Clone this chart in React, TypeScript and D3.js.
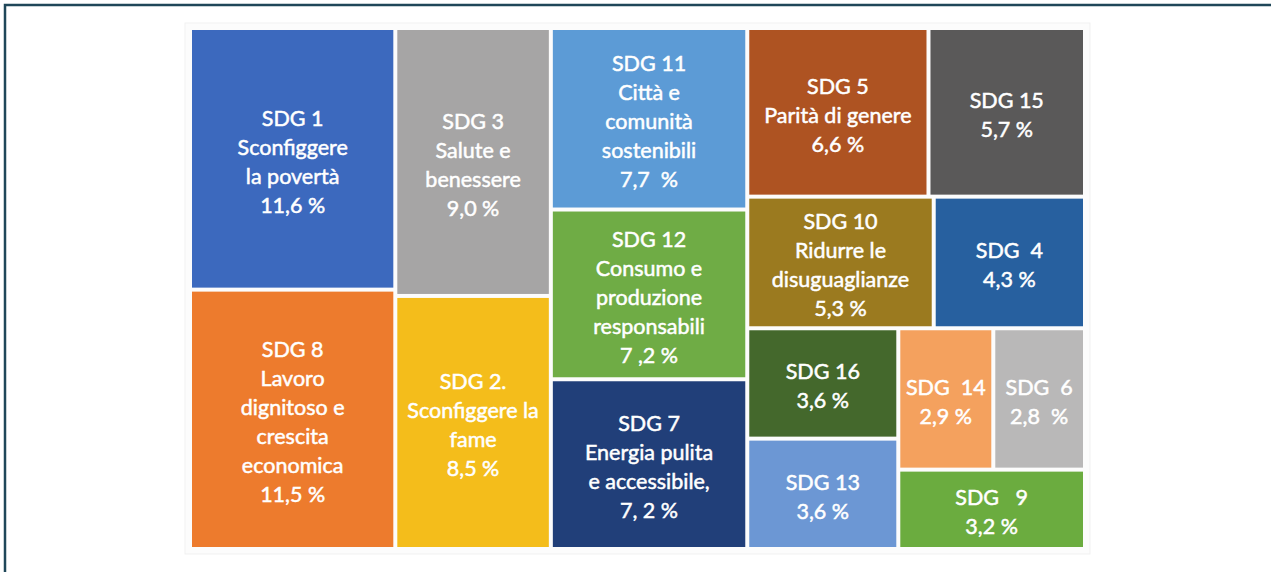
import React from "react";
import * as d3 from "d3";

const width = 1271;
const height = 572;
// area occupied by the tiles
const area = { left: 192, top: 30, right: 1083, bottom: 547 };

// SDG codes, titles, shares (%) and the value text as it is printed
const codes = ["SDG1", "SDG8", "SDG3", "SDG2", "SDG11", "SDG12", "SDG7", "SDG5", "SDG15", "SDG10", "SDG4", "SDG16", "SDG13", "SDG14", "SDG6", "SDG9"];
const headings = ["SDG 1", "SDG 8", "SDG 3", "SDG 2.", "SDG 11", "SDG 12", "SDG 7", "SDG 5", "SDG 15", "SDG 10", "SDG  4", "SDG 16", "SDG 13", "SDG  14", "SDG  6", "SDG   9"];
const titles = [
  ["Sconfiggere", "la povertà"],
  ["Lavoro", "dignitoso e", "crescita", "economica"],
  ["Salute e", "benessere"],
  ["Sconfiggere la", "fame"],
  ["Città e", "comunità", "sostenibili"],
  ["Consumo e", "produzione", "responsabili"],
  ["Energia pulita", "e accessibile,"],
  ["Parità di genere"],
  [],
  ["Ridurre le", "disuguaglianze"],
  [],
  [],
  [],
  [],
  [],
  [],
];
const values = [11.6, 11.5, 9.0, 8.5, 7.7, 7.2, 7.2, 6.6, 5.7, 5.3, 4.3, 3.6, 3.6, 2.9, 2.8, 3.2];
const valueLabels = ["11,6 %", "11,5 %", "9,0 %", "8,5 %", "7,7  %", "7 ,2 %", "7, 2 %", "6,6 %", "5,7 %", "5,3 %", "4,3 %", "3,6 %", "3,6 %", "2,9 %", "2,8  %", "3,2 %"];

const colors: Record<string, string> = {
  SDG1: "#3c69be", SDG8: "#ed7b2d", SDG3: "#a6a5a5", SDG2: "#f4bd1b",
  SDG11: "#5c9bd6", SDG12: "#6fac45", SDG7: "#213f79", SDG5: "#ae5322",
  SDG15: "#5a5959", SDG10: "#9b7a1f", SDG4: "#27609f", SDG16: "#44682c",
  SDG13: "#6c97d4", SDG14: "#f4a15e", SDG6: "#b9b8b8", SDG9: "#6bac3f",
};

// how the tiles are grouped: "row" = side by side, "col" = stacked
const layout = {
  dir: "row",
  children: [
    { dir: "col", children: ["SDG1", "SDG8"] },
    { dir: "col", children: ["SDG3", "SDG2"] },
    { dir: "col", children: ["SDG11", "SDG12", "SDG7"] },
    {
      dir: "col",
      children: [
        { dir: "row", children: ["SDG5", "SDG15"] },
        { dir: "row", children: ["SDG10", "SDG4"] },
        {
          dir: "row",
          children: [
            { dir: "col", children: ["SDG16", "SDG13"] },
            { dir: "col", children: [{ dir: "row", children: ["SDG14", "SDG6"] }, "SDG9"] },
          ],
        },
      ],
    },
  ],
};

function build(n: any): any {
  if (typeof n === "string") {
    const i = codes.indexOf(n);
    return { code: n, value: values[i], index: i };
  }
  return { dir: n.dir, children: n.children.map(build) };
}

export default function App() {
  const root = d3
    .hierarchy(build(layout))
    .sum((d: any) => (d.children ? 0 : d.value));

  d3.treemap<any>()
    .size([area.right - area.left, area.bottom - area.top])
    .paddingInner(4)
    .tile((node: any, x0, y0, x1, y1) => {
      const t = node.data.dir === "col" ? d3.treemapSlice : d3.treemapDice;
      t(node, x0, y0, x1, y1);
    })(root);

  const leaves = root.leaves() as any[];
  const lineH = 29;

  return (
    <svg width={width} height={height} style={{ position: "absolute", left: 0, top: 0 }}>
      <rect x={0} y={0} width={width} height={height} fill="#ffffff" />
      {/* frame */}
      <path d={`M5,${height} V5 H${width}`} fill="none" stroke="#1f4759" strokeWidth={2.5} />
      <rect x={185} y={23} width={905} height={531} fill="#fcfcfc" stroke="#f1f1f1" />
      <g transform={`translate(${area.left},${area.top})`}>
        {leaves.map((d) => {
          const i = d.data.index;
          const lines = [headings[i], ...titles[i], valueLabels[i]];
          const cx = (d.x0 + d.x1) / 2;
          const cy = (d.y0 + d.y1) / 2;
          const top = cy - ((lines.length - 1) * lineH) / 2 + 3;
          return (
            <g key={d.data.code}>
              <rect x={d.x0} y={d.y0} width={d.x1 - d.x0} height={d.y1 - d.y0} fill={colors[d.data.code]} />
              <text
                textAnchor="middle"
                fill="#ffffff"
                stroke="#ffffff"
                strokeWidth={0.5}
                fontFamily="Lato, 'Open Sans', sans-serif"
                fontSize={21.5}
                style={{ whiteSpace: "pre" }}
              >
                {lines.map((l, k) => (
                  <tspan key={k} x={cx} y={top + k * lineH} dy="0.35em">
                    {l}
                  </tspan>
                ))}
              </text>
            </g>
          );
        })}
      </g>
    </svg>
  );
}
